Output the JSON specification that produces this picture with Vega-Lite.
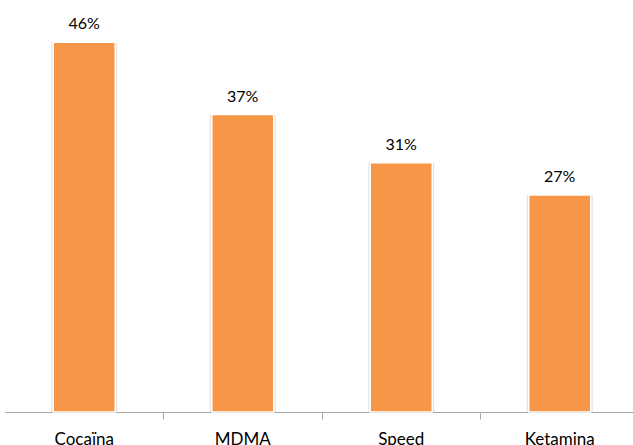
{
  "$schema": "https://vega.github.io/schema/vega-lite/v6.json",
  "autosize": "none",
  "width": 634,
  "height": 402,
  "padding": {"left": 5, "top": 10, "right": 0, "bottom": 33},
  "background": "white",
  "config": {"view": {"stroke": null}},
  "data": {"values": [
    {"drug": "Cocaïna", "share": 0.46},
    {"drug": "MDMA", "share": 0.37},
    {"drug": "Speed", "share": 0.31},
    {"drug": "Ketamina", "share": 0.27}
  ]},
  "encoding": {
    "x": {
      "field": "drug", "type": "nominal", "sort": null,
      "scale": {"paddingInner": 0, "paddingOuter": 0},
      "axis": {
        "title": null, "labelAngle": 0, "bandPosition": 0,
        "domainColor": "#a6a6a6", "tickColor": "#a6a6a6", "tickSize": 7,
        "tickOpacity": {"condition": {"test": "datum.value === 'Cocaïna'", "value": 0}, "value": 1},
        "labelFont": "Lato", "labelFontSize": 17, "labelColor": "#000000",
        "labelPadding": 12, "labelBaseline": "top"
      }
    },
    "y": {
      "field": "share", "type": "quantitative",
      "scale": {"domain": [0, 0.5], "nice": false},
      "axis": null
    }
  },
  "layer": [
    {"mark": {"type": "bar", "size": 66, "color": "#e4e4e4"}},
    {"mark": {"type": "bar", "size": 62, "color": "#F79646", "stroke": "#ffffff", "strokeWidth": 1.5}},
    {
      "mark": {"type": "text", "dy": -13, "baseline": "alphabetic", "font": "Lato", "fontSize": 16, "color": "#000000"},
      "encoding": {"text": {"field": "share", "type": "quantitative", "format": ".0%"}}
    }
  ]
}
